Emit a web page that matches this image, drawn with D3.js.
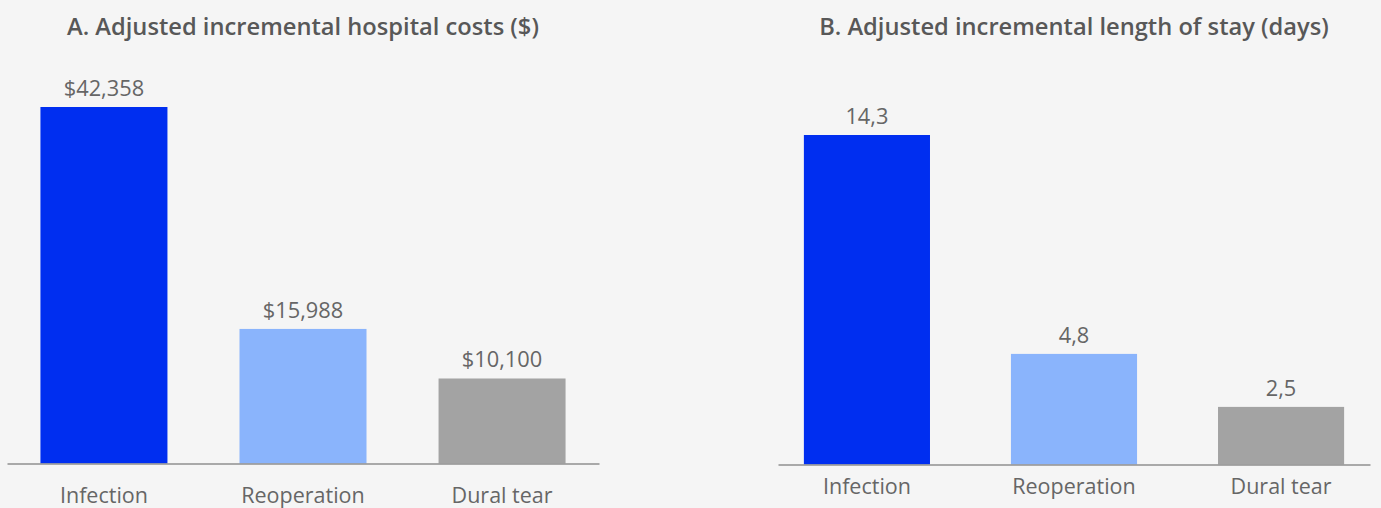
<!DOCTYPE html>
<html>
<head>
<meta charset="utf-8">
<script src="https://cdn.jsdelivr.net/npm/d3@7"></script>
<style>
  html, body { margin: 0; padding: 0; background: #f5f5f5; }
  svg { display: block; }
</style>
</head>
<body>
<svg id="chart" width="1381" height="508"></svg>
<script>
// ---- Data ----
const categories = ["Infection", "Reoperation", "Dural tear"];
const costValues = [42358, 15988, 10100];
const costLabels = ["$42,358", "$15,988", "$10,100"];
const stayValues = [14.3, 4.8, 2.5];
const stayLabels = ["14,3", "4,8", "2,5"];
const titleA = "A. Adjusted incremental hospital costs ($)";
const titleB = "B. Adjusted incremental length of stay (days)";
const barColors = ["#002ef0", "#8ab4fc", "#a3a3a3"];

const FONT = "'Open Sans', Lato, sans-serif";
const svg = d3.select("#chart");

function panel(opts) {
  const g = svg.append("g");
  const x = d3.scaleBand()
    .domain(categories)
    .range([opts.x0, opts.x1])
    .paddingInner(opts.pi)
    .paddingOuter(opts.po);
  const y = d3.scaleLinear()
    .domain([0, d3.max(opts.values)])
    .range([opts.base, opts.top]);

  g.append("text")
    .attr("x", (opts.x0 + opts.x1) / 2)
    .attr("y", 35)
    .attr("text-anchor", "middle")
    .attr("font-family", FONT)
    .attr("font-weight", 600)
    .attr("font-size", 23.7)
    .attr("fill", "#585858")
    .text(opts.title);

  g.selectAll("rect.bar")
    .data(opts.values)
    .join("rect")
    .attr("class", "bar")
    .attr("x", (d, i) => x(categories[i]))
    .attr("width", x.bandwidth())
    .attr("y", d => y(d))
    .attr("height", d => y(0) - y(d))
    .attr("fill", (d, i) => barColors[i]);

  g.selectAll("text.val")
    .data(opts.values)
    .join("text")
    .attr("class", "val")
    .attr("x", (d, i) => x(categories[i]) + x.bandwidth() / 2)
    .attr("y", d => y(d) - 11)
    .attr("text-anchor", "middle")
    .attr("font-family", FONT)
    .attr("font-weight", 400)
    .attr("font-size", 21.8)
    .attr("fill", "#666")
    .text((d, i) => opts.labels[i]);

  const axis = d3.axisBottom(x).tickSize(0).tickPadding(0);
  const ag = g.append("g")
    .attr("transform", `translate(0,${opts.base})`)
    .call(axis);
  ag.select(".domain").attr("stroke", "#8f8f8f").attr("stroke-width", 1.5);
  ag.selectAll(".tick text")
    .attr("dy", 0)
    .attr("y", opts.labelY - opts.base)
    .attr("font-family", FONT)
    .attr("font-weight", 400)
    .attr("font-size", 21.5)
    .attr("fill", "#666");
}

panel({ x0: 7, x1: 599, pi: 0.362, po: 0.168, base: 463.5, top: 107,
        values: costValues, labels: costLabels, title: titleA, labelY: 503 });
panel({ x0: 778, x1: 1370, pi: 0.391, po: 0.125, base: 464.5, top: 135,
        values: stayValues, labels: stayLabels, title: titleB, labelY: 494 });
</script>
</body>
</html>
